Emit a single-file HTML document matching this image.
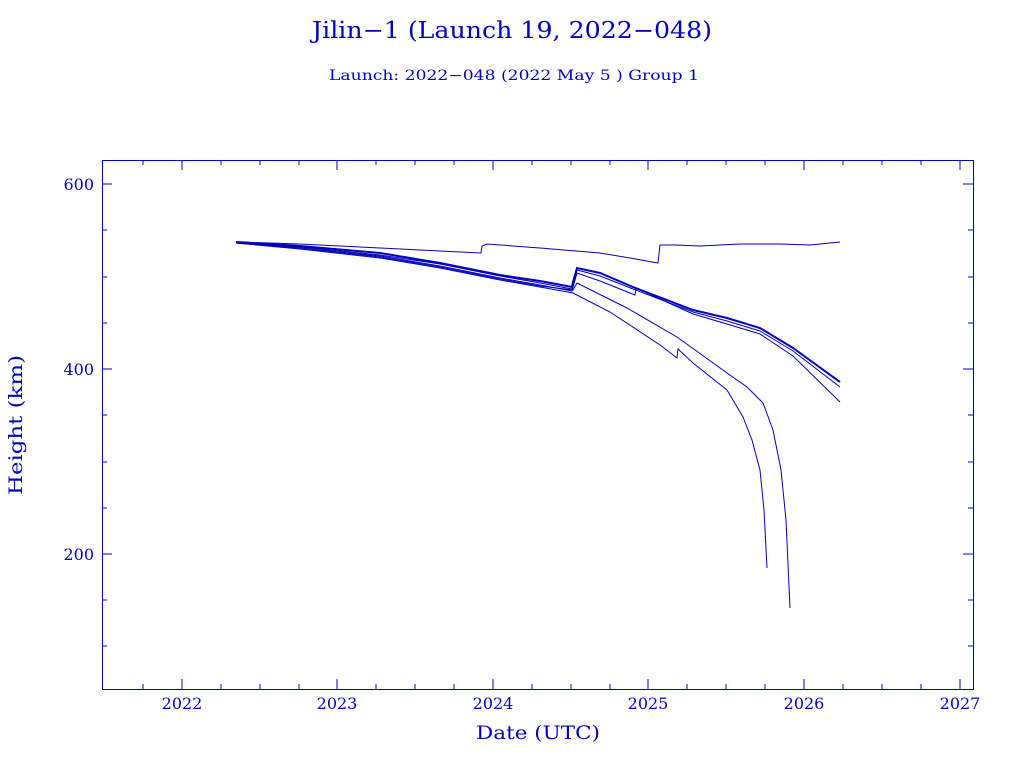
<!DOCTYPE html>
<html><head><style>body{margin:0;background:#fff}</style></head><body>
<svg width="1024" height="768" xmlns="http://www.w3.org/2000/svg" font-family="'DejaVu Serif','Liberation Serif',serif" fill="#0000c0">
<text x="312" y="38" font-size="23" textLength="400" lengthAdjust="spacingAndGlyphs">Jilin−1 (Launch 19, 2022−048)</text>
<text x="329" y="80" font-size="14" textLength="370" lengthAdjust="spacingAndGlyphs">Launch: 2022−048  (2022 May  5 )  Group 1</text>
<g stroke="#0000c0" fill="none" stroke-width="1">
<rect x="102.5" y="160.5" width="871" height="529"/>
<path d="M182,160v10M337,160v10M493,160v10M648,160v10M804,160v10M960,160v10M182,689v-10M337,689v-10M493,689v-10M648,689v-10M804,689v-10M960,689v-10
M143,160v5M221,160v5M260,160v5M299,160v5M376,160v5M415,160v5M454,160v5M532,160v5M571,160v5M610,160v5M687,160v5M726,160v5M765,160v5M843,160v5M882,160v5M921,160v5
M143,689v-5M221,689v-5M260,689v-5M299,689v-5M376,689v-5M415,689v-5M454,689v-5M532,689v-5M571,689v-5M610,689v-5M687,689v-5M726,689v-5M765,689v-5M843,689v-5M882,689v-5M921,689v-5
M102,184h10M102,369h10M102,554h10M973,184h-10M973,369h-10M973,554h-10
M102,230h5M102,277h5M102,323h5M102,415h5M102,462h5M102,508h5M102,600h5M102,646h5
M973,230h-5M973,277h-5M973,323h-5M973,415h-5M973,462h-5M973,508h-5M973,600h-5M973,646h-5"/>
<polyline points="236,242 300,244 380,248 440,251 481,253 482,246 487,244 540,248 600,253 630,258 658,263 660,245 675,245 700,246 740,244 780,244 810,245 840,242"/>
<polyline stroke-width="2" points="236,242 300,246 380,253 440,263 500,275 540,281 572,287 573,282 577,268 600,273 633,287 693,310 727,318 760,328 793,348 840,382"/>
<polyline points="236,243 300,247 380,255 440,264 500,276 540,283 572,289 573,283 577,270 600,276 633,289 693,312 727,321 760,331 793,351 840,387"/>
<polyline points="236,243 300,248 380,256 440,266 500,278 540,285 572,291 577,273 600,281 635,295 636,288 693,314 727,324 760,334 793,356 840,402"/>
<polyline points="236,243 300,248 380,257 440,267 500,279 540,286 573,290 577,283 627,308 677,337 727,373 747,387 763,403 773,430 781,470 786,520 790,608"/>
<polyline points="236,243 300,249 380,258 440,268 500,280 540,287 573,293 610,312 660,345 677,358 678,349 693,363 727,390 743,417 752,440 760,470 764,510 767,568"/>
</g>
<g font-size="16" text-anchor="middle">
<text x="182" y="709">2022</text><text x="337" y="709">2023</text><text x="493" y="709">2024</text><text x="648" y="709">2025</text><text x="804" y="709">2026</text><text x="960" y="709">2027</text>
</g>
<g font-size="16" text-anchor="end">
<text x="94" y="190">600</text><text x="94" y="375">400</text><text x="94" y="560">200</text>
</g>
<text x="476" y="739" font-size="19" textLength="124" lengthAdjust="spacingAndGlyphs">Date (UTC)</text>
<text transform="translate(22,495) rotate(-90)" font-size="19" textLength="140" lengthAdjust="spacingAndGlyphs">Height (km)</text>
</svg>
</body></html>
